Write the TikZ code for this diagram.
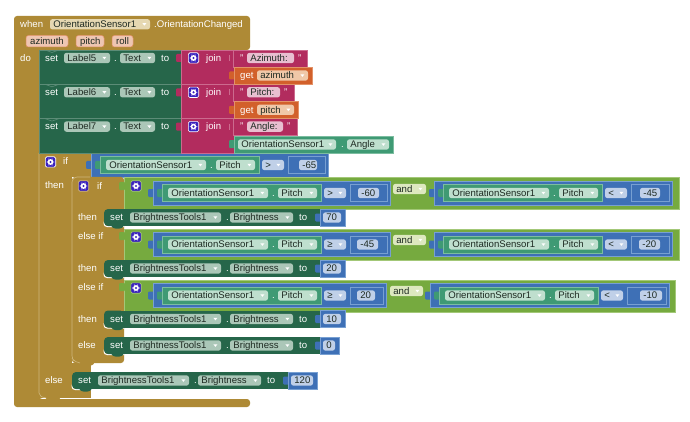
\documentclass[tikz,border=0pt]{standalone}
\usepackage{fontspec}
\setmainfont{Liberation Sans}
\definecolor{tan}{HTML}{AE8A36}\definecolor{tanL}{HTML}{CFB77C}\definecolor{tanF}{HTML}{E6D8B2}
\definecolor{dg}{HTML}{26664A}\definecolor{dgL}{HTML}{5C8C77}\definecolor{dgF}{HTML}{ABC7B8}
\definecolor{mg}{HTML}{B22C5E}\definecolor{mgL}{HTML}{CC6A8E}\definecolor{mgF}{HTML}{E8BFD0}
\definecolor{og}{HTML}{D2602B}\definecolor{ogL}{HTML}{E39268}\definecolor{ogF}{HTML}{F0C8A8}
\definecolor{bl}{HTML}{3E70B6}\definecolor{blL}{HTML}{78A0D2}\definecolor{blF}{HTML}{C0D0E8}
\definecolor{sg}{HTML}{3F9A74}\definecolor{sgL}{HTML}{7CBDA0}\definecolor{sgF}{HTML}{BFDFCE}
\definecolor{lm}{HTML}{76AA3F}\definecolor{lmL}{HTML}{A3C878}\definecolor{lmF}{HTML}{DDE8BF}
\definecolor{pu}{HTML}{3A22BE}\definecolor{inkc}{HTML}{1E2A22}
\newcounter{nd}
\tikzset{
  x=1pt,y=-1pt,
  blocktext/.style={inner sep=0pt,anchor=base west,font=\fontsize{9.6}{11}\selectfont},
  fieldbox/.style={rounded corners=2.5pt},
  blockbox/.style={line width=.6pt},
}
% rectangular block with a lighter outline
\newcommand{\blk}[6]{\filldraw[blockbox,fill=#5,draw=#6] (#1,#2) rectangle (#3,#4);}
% connector tab on the left edge of a block
\newcommand{\tabb}[3]{\fill[#3,rounded corners=1pt] ({#1-5},{#2-4}) rectangle ({#1+1},{#2+4});}
% white label
\newcommand{\lbl}[3]{\stepcounter{nd}\node[blocktext,text=white] (lb\arabic{nd}) at (#1,{#2+3.4}) {#3};}
% field with text; #6=1 adds the drop-down arrow
\newcommand{\fld}[6]{\fill[fieldbox,#4] (#1,{#3-5.2}) rectangle (#2,{#3+5.2});
  \stepcounter{nd}\node[blocktext,text=inkc] (fd\arabic{nd}) at ({#1+3.2},{#3+3.4}) {#5};
  \ifnum#6=1 \fill[white] ({#2-7.6},{#3-1.2}) -- ({#2-3.6},{#3-1.2}) -- ({#2-5.6},{#3+1.4}) -- cycle;\fi}
% mutator gear button
\newcommand{\gearb}[3]{\filldraw[fill=pu,draw=#3,line width=.6pt,rounded corners=1.5pt] ({#1-5.2},{#2-5.2}) rectangle ({#1+5.2},{#2+5.2});
  \fill[white] (#1,#2) circle (2.9pt);
  \foreach \a in {0,60,...,300} {\fill[white] ({#1+3.3*cos(\a)},{#2+3.3*sin(\a)}) circle (.55pt);}
  \fill[pu] (#1,#2) circle (1.2pt);}
% comparison: sensor getter, operator and number; x0, yc, op, value, v1, v2, right edge
\newcommand{\cmp}[7]{
  \tabb{#1}{#2}{bl}
  \blk{#1}{#2-12}{#7}{#2+12}{bl}{blL}
  \tabb{#1+9}{#2}{sg}
  \blk{#1+9}{#2-8.5}{#1+168}{#2+8.5}{sg}{sgL}
  \fld{#1+15}{#1+115}{#2}{sgF}{OrientationSensor1}{1}
  \lbl{#1+119}{#2}{.}
  \fld{#1+125}{#1+164}{#2}{sgF}{Pitch}{1}
  \fld{#1+171}{#1+193}{#2}{blF}{#3}{1}
  \draw[blL,line width=.5pt] (#1+197,#2-8.5) rectangle (#7-3,#2+8.5);
  \fld{#5}{#6}{#2}{blF}{#4}{0}
}
% set BrightnessTools1.Brightness to n
\newcommand{\setb}[5]{
  \draw[white,line width=1pt,rounded corners=3pt] (#1,{#2+4}) -- (#1,{#2+9}) -- ({#1+20},{#2+9});
  \fill[dg] ({#1+7},{#2+8}) arc[start angle=180,end angle=360,x radius=6.5pt,y radius=3.2pt] -- cycle;
  \fill[dg,rounded corners=4pt] (#1,{#2-8.5}) rectangle ({#1+20},{#2+8.5});
  \fill[dg] ({#1+8},{#2-8.5}) rectangle ({#1+216},{#2+8.5});
  \tabb{#1+216}{#2}{bl}
  \blk{#1+216}{#2-8.5}{#4}{#2+8.5}{bl}{blL}
  \lbl{#1+6}{#2}{set}
  \fld{#1+26}{#1+117}{#2}{dgF}{BrightnessTools1}{1}
  \lbl{#1+122}{#2}{.}
  \fld{#1+126}{#1+189}{#2}{dgF}{Brightness}{1}
  \lbl{#1+195}{#2}{to}
  \fld{#1+219}{#5}{#2}{blF}{#3}{0}
}
% set LabelN.Text to join(...)
\newcommand{\setl}[6]{
  \blk{39}{#1}{181}{#1+34.3}{dg}{dgL}
  \draw[dgL,line width=.6pt] (45,#1) -- (52,#1+2.5) -- (59,#1);
  \lbl{45}{#1+8}{set}
  \fld{64}{110}{#1+8}{dgF}{#2}{1}
  \lbl{114}{#1+8}{.}
  \fld{120}{155}{#1+8}{dgF}{Text}{1}
  \lbl{161}{#1+8}{to}
  \tabb{181}{#1+8}{mg}
  \blk{181}{#1}{#5}{#1+17}{mg}{mgL}
  \blk{181}{#1+17}{234}{#1+34.3}{mg}{mgL}
  \fill[mg] (182,#1+1) rectangle (233,#1+33.5);
  \fill[mg] (230,#1+1) rectangle ({#5-1},#1+16.5);
  \draw[mgL,line width=.5pt] (233.5,#1) -- (233.5,#1+17);
  \gearb{193.5}{#1+8}{white}
  \lbl{206}{#1+8}{join}
  \draw[mgL,line width=.8pt] (229,#1+5) -- (229,#1+11);
  \lbl{240}{#1+8}{"}
  \fld{247}{#4}{#1+8}{mgF}{#3}{0}
  \lbl{{#4+4}}{#1+8}{"}
  \tabb{234}{#1+25.5}{#6}
}
\begin{document}
\begin{tikzpicture}
\fill[white] (0,0) rectangle (690,422);
\useasboundingbox (0,0) rectangle (690,422);

% event handler body
\fill[tan,rounded corners=3pt] (14,407) -- (14,16) -- (250,16) -- (250,50) -- (39,50) -- (39,399) -- (250,399) -- (250,407) -- cycle;
\lbl{20}{24.5}{when}
\fld{50}{150}{24.3}{tanF}{OrientationSensor1}{1}
\lbl{154}{24.5}{.OrientationChanged}
\foreach \xa/\xb/\nm in {26/68/azimuth,76/104/pitch,112/133/roll}{
  \filldraw[fill=ogF!75!mgF,draw=ogL,fieldbox,line width=.5pt] (\xa,35.5) rectangle (\xb,47);
  \stepcounter{nd}\node[blocktext,text=inkc] (pm\arabic{nd}) at (\xa+4,44.6) {\nm};
}
\lbl{20}{58}{do}

% outer if/else
\fill[tan] (39,153) rectangle (91,177);
\fill[tan] (39,177) rectangle (72,398);
\fill[tan] (72,363) rectangle (91,398);
\fill[tan] (46,398) arc[start angle=180,end angle=360,x radius=7pt,y radius=3pt] -- cycle;
\draw[tanL,line width=.6pt,rounded corners=2pt] (39,153) -- (39,395) -- (44,398) -- (46,398);
\gearb{50.5}{162}{white}
\lbl{63}{161.5}{if}
\lbl{45}{185}{then}
\lbl{45}{380}{else}
\cmp{91}{165}{>}{-65}{299}{317}{328}

% inner if / else if chain
\fill[tan,rounded corners=3pt] (72,363) -- (72,177) -- (124,177) -- (124,363) -- cycle;
\fill[tan] (80,363) arc[start angle=180,end angle=360,x radius=7pt,y radius=3pt] -- cycle;
\draw[tanL,line width=.6pt,rounded corners=2pt] (80,363) -- (74,361) -- (72,358) -- (72,180) -- (75,177) -- (90,177);
\gearb{83.5}{186}{tanL}
\lbl{97}{186}{if}
\lbl{78}{217}{then}
\lbl{78}{236}{else if}
\lbl{78}{268}{then}
\lbl{78}{287}{else if}
\lbl{78}{319}{then}
\lbl{78}{345}{else}

% conditions joined by "and"
\blk{124}{177}{679}{209}{lm}{lmL}
\blk{124}{229}{679}{260}{lm}{lmL}
\blk{124}{280}{675}{312}{lm}{lmL}
\tabb{124}{186}{lm}\tabb{124}{236}{lm}\tabb{124}{287}{lm}
\gearb{136}{186}{lmL}\gearb{136}{237}{lmL}\gearb{136}{288}{lmL}

\cmp{153}{193}{>}{-60}{358}{379}{390}
\fld{393}{426}{189}{lmF}{and}{1}
\cmp{434}{193}{<}{-45}{640}{660}{672}

\cmp{153}{244.5}{≥}{-45}{357}{378}{390}
\fld{393}{426}{240}{lmF}{and}{1}
\cmp{434}{244.5}{<}{-20}{639}{660}{672}

\cmp{153}{295.5}{≥}{20}{357}{375}{386}
\fld{390}{423}{291}{lmF}{and}{1}
\cmp{430}{295.5}{<}{-10}{640}{662}{669}

\setb{104}{217.5}{70}{345}{341}
\setb{104}{268.5}{20}{345}{341}
\setb{104}{319}{10}{345}{341}
\setb{104}{345.5}{0}{339}{335}
\setb{72}{380.5}{120}{317}{313}

% label assignments
\setl{50}{Label5}{Azimuth:}{294}{307}{og}
\setl{84.3}{Label6}{Pitch:}{280}{294}{og}
\setl{118.6}{Label7}{Angle:}{283}{297}{sg}

\blk{234}{67}{312}{84}{og}{ogL}
\lbl{240}{75.5}{get}
\fld{257}{308}{75.5}{ogF}{azimuth}{1}
\blk{234}{101.3}{298}{118.3}{og}{ogL}
\lbl{240}{109.8}{get}
\fld{257}{294}{109.8}{ogF}{pitch}{1}
\blk{234}{136}{393}{153}{sg}{sgL}
\fld{238}{336}{144.5}{sgF}{OrientationSensor1}{1}
\lbl{341}{144.5}{.}
\fld{347}{389}{144.5}{sgF}{Angle}{1}
\end{tikzpicture}
\end{document}
